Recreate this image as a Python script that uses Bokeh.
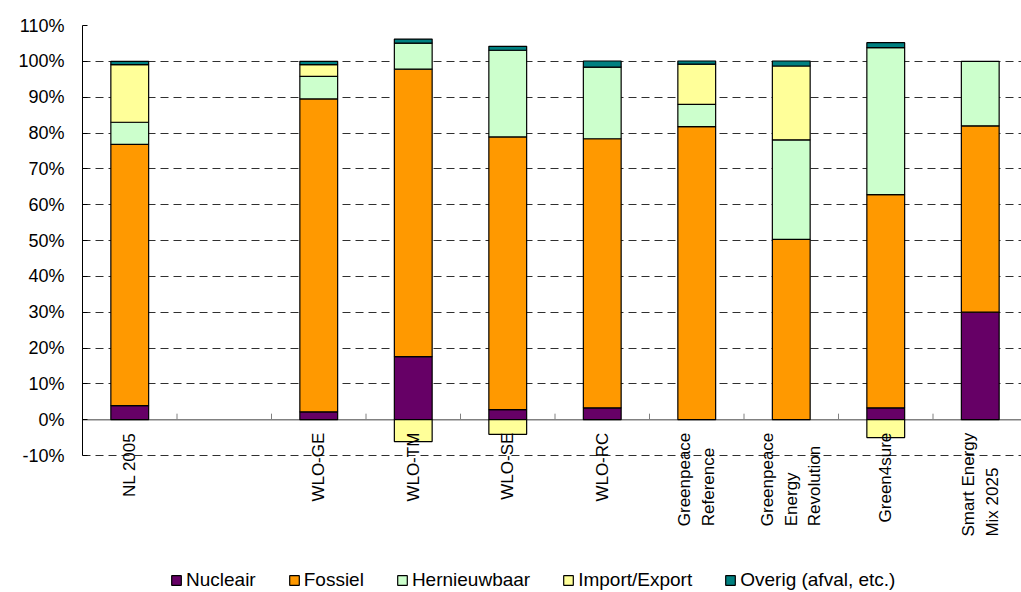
from math import pi
from bokeh.plotting import figure
from bokeh.models import (ColumnDataSource, Range1d, FixedTicker, Legend, LegendItem,
                          LabelSet, Span)
from bokeh.core.properties import value
from bokeh.embed import file_html
from bokeh.resources import INLINE

categories = ["NL 2005", "", "WLO-GE", "WLO-TM", "WLO-SE", "WLO-RC",
              "Greenpeace\nReference", "Greenpeace\nEnergy\nRevolution",
              "Green4sure", "Smart Energy\nMix 2025"]
series_names = ["Nucleair", "Fossiel", "Hernieuwbaar", "Import/Export", "Overig (afval, etc.)"]
nucleair = [3.9, 0, 2.2, 17.6, 2.8, 3.3, 0, 0, 3.3, 30.0]
fossiel = [72.9, 0, 87.3, 80.2, 76.1, 75.1, 81.8, 50.3, 59.5, 52.0]
hernieuwbaar = [6.2, 0, 6.3, 7.3, 24.2, 20.0, 6.2, 27.8, 41.0, 18.0]
import_export = [16.1, 0, 3.3, -6.1, -4.1, 0, 11.2, 20.6, -5.0, 0]
overig = [0.9, 0, 0.9, 1.1, 1.1, 1.7, 0.9, 1.4, 1.4, 0]
colors = ["#660066", "#FF9900", "#CCFFCC", "#FFFF99", "#008080"]
y_ticks = [-10, 0, 10, 20, 30, 40, 50, 60, 70, 80, 90, 100, 110]
y_tick_labels = ["-10%", "0%", "10%", "20%", "30%", "40%", "50%", "60%", "70%",
                 "80%", "90%", "100%", "110%"]

FONT = "Liberation Sans"
W, H = 1021, 592
TOP, LEFT = 25, 82
AX_MIN, AX_MAX = -10, 110          # value axis extent
PX_PER_UNIT = 430 / (AX_MAX - AX_MIN)
# the frame extends below -10% to hold category labels and legend
view_min = AX_MAX - (H - TOP) / PX_PER_UNIT
view_xmax = -0.5 + (W - LEFT) / 94.5

p = figure(width=W, height=H, x_range=Range1d(-0.5, view_xmax),
           y_range=Range1d(view_min, AX_MAX),
           output_backend="svg", toolbar_location=None, x_axis_location=None,
           min_border_left=LEFT, min_border_top=TOP, min_border_right=0,
           min_border_bottom=0)
p.outline_line_color = None
p.xgrid.grid_line_color = None
p.ygrid.ticker = FixedTicker(ticks=[t for t in y_ticks if t != 0])
p.ygrid.grid_line_color = "#303030"
p.ygrid.grid_line_dash = "8 5"
p.ygrid.grid_line_width = 1

# zero axis line
p.add_layout(Span(location=0, dimension="width", line_color="#808080",
                  line_width=1.5, level="underlay"))

series = [nucleair, fossiel, hernieuwbaar, import_export, overig]
pos_base = [0.0] * len(categories)
neg_base = [0.0] * len(categories)
items = []
for name, vals, col in zip(series_names, series, colors):
    xs, bottoms, tops = [], [], []
    for i, v in enumerate(vals):
        if v == 0:
            continue
        if v > 0:
            b, t = pos_base[i], pos_base[i] + v
            pos_base[i] = t
        else:
            b, t = neg_base[i] + v, neg_base[i]
            neg_base[i] = b
        xs.append(i)
        bottoms.append(b)
        tops.append(t)
    src = ColumnDataSource(dict(x=xs, bottom=bottoms, top=tops))
    r = p.vbar(x="x", bottom="bottom", top="top", width=0.4, source=src,
               fill_color=col, line_color="black", line_width=1.2)
    items.append(LegendItem(label=name, renderers=[r]))

# category boundary ticks on the zero line (6 px tall)
bx = [i + 0.5 for i in range(len(categories) - 1)]
p.segment(x0=bx, x1=bx, y0=[0] * len(bx), y1=[6 / PX_PER_UNIT] * len(bx),
          line_color="#808080", line_width=1)

# category labels below the zero line
lab_idx = [i for i, c in enumerate(categories) if c]
lab_src = ColumnDataSource(dict(x=lab_idx, y=[0] * len(lab_idx),
                                text=[categories[i] for i in lab_idx]))
p.add_layout(LabelSet(x="x", y="y", text="text", source=lab_src, angle=pi / 2,
                      y_offset=-13, text_align="right", text_baseline="middle",
                      text_font=value(FONT), text_font_size="17px",
                      text_color="black", text_line_height=1.25))

# y axis
p.yaxis.bounds = (AX_MIN, AX_MAX)
p.yaxis.ticker = FixedTicker(ticks=y_ticks)
p.yaxis.major_label_overrides = {t: l for t, l in zip(y_ticks, y_tick_labels)}
p.yaxis.axis_line_color = "black"
p.yaxis.major_tick_in = 5
p.yaxis.major_tick_out = 0
p.yaxis.major_tick_line_color = "black"
p.yaxis.minor_tick_line_color = None
p.yaxis.major_label_standoff = 18
p.yaxis.major_label_text_font = FONT
p.yaxis.major_label_text_font_size = "18px"
p.yaxis.major_label_text_color = "black"

legend = Legend(items=items, orientation="horizontal", location=(88, 1),
                label_text_font=FONT, label_text_font_size="19px",
                label_text_color="black", glyph_width=12, glyph_height=12,
                label_standoff=4, spacing=32, border_line_color=None,
                background_fill_alpha=0, padding=2, margin=0)
p.add_layout(legend, "center")

open("out.html", "w").write(file_html(p, INLINE))
